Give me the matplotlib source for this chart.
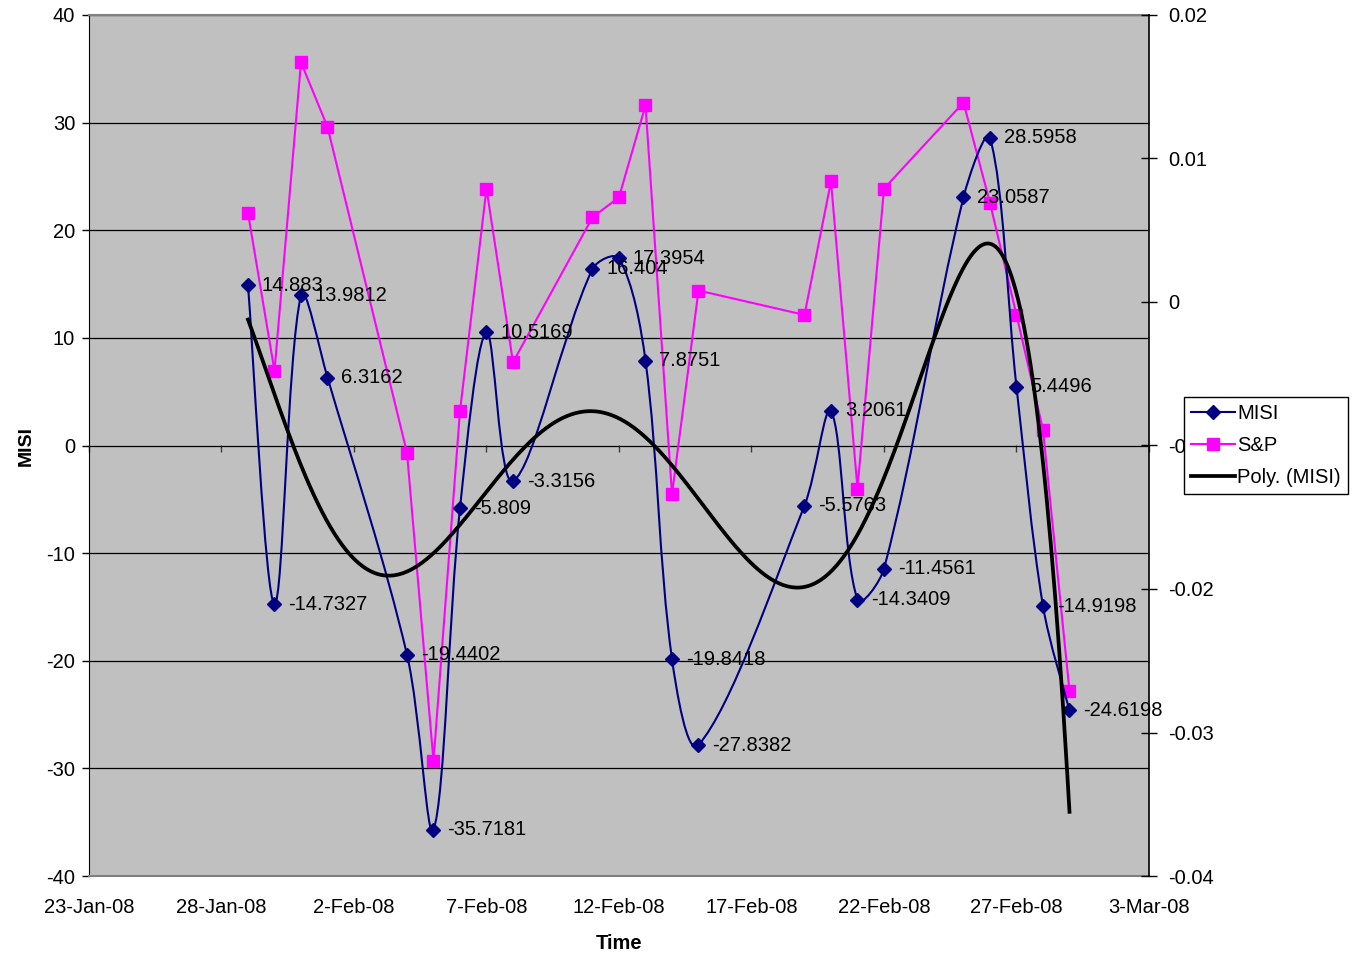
import numpy as np
import pandas as pd
import matplotlib
matplotlib.use("Agg")
import matplotlib.pyplot as plt
import matplotlib.dates as mdates
from matplotlib.path import Path
from matplotlib.patches import PathPatch
from matplotlib.lines import Line2D
from matplotlib.transforms import blended_transform_factory

plt.rcParams['font.family'] = ['Liberation Sans', 'DejaVu Sans']
plt.rcParams['axes.unicode_minus'] = False

# Datos
fechas = ['2008-01-29', '2008-01-30', '2008-01-31', '2008-02-01', '2008-02-04',
          '2008-02-05', '2008-02-06', '2008-02-07', '2008-02-08', '2008-02-11',
          '2008-02-12', '2008-02-13', '2008-02-14', '2008-02-15', '2008-02-19',
          '2008-02-20', '2008-02-21', '2008-02-22', '2008-02-25', '2008-02-26',
          '2008-02-27', '2008-02-28', '2008-02-29']
misi = [14.883, -14.7327, 13.9812, 6.3162, -19.4402, -35.7181, -5.809, 10.5169,
        -3.3156, 16.404, 17.3954, 7.8751, -19.8418, -27.8382, -5.5763, 3.2061,
        -14.3409, -11.4561, 23.0587, 28.5958, 5.4496, -14.9198, -24.6198]
sp = [0.0062, -0.0048, 0.0167, 0.0122, -0.0105, -0.0320, -0.0076, 0.0079,
      -0.0042, 0.0059, 0.0073, 0.0137, -0.0134, 0.0008, -0.0009, 0.0084,
      -0.0130, 0.0079, 0.0139, 0.0069, -0.0009, -0.0089, -0.0271]
ticks_der = [0.02, 0.01, 0, -0.01, -0.02, -0.03, -0.04]

x = mdates.date2num(pd.to_datetime(fechas))
y = np.array(misi)

fig = plt.figure(figsize=(13.61, 9.57), dpi=100)
ax = fig.add_axes([89/1361, 81/957, 1060/1361, 861/957])
ax2 = ax.twinx()

ax.set_facecolor('#C0C0C0')
x0 = mdates.date2num(pd.Timestamp('2008-01-23'))
x1 = mdates.date2num(pd.Timestamp('2008-03-03'))
ax.set_xlim(x0, x1)
ax.set_ylim(-40, 40)
ax2.set_ylim(-0.04, 0.02)

# Cuadrícula
ax.set_yticks(np.arange(-40, 41, 10))
ax.set_axisbelow(True)
ax.yaxis.grid(True, color='black', lw=0.9)
ax.xaxis.grid(False)

for s in ['top', 'bottom']:
    ax.spines[s].set_color('#808080')
    ax.spines[s].set_linewidth(1.5)
ax.spines['left'].set_color('black')
ax.spines['right'].set_visible(False)
for s in ['top', 'bottom', 'left']:
    ax2.spines[s].set_visible(False)
ax2.spines['right'].set_color('black')
ax2.spines['right'].set_linewidth(1.2)

# Eje de fechas
ax.set_xticks(np.arange(x0, x1 + 1, 5))
ax.xaxis.set_major_formatter(
    plt.FuncFormatter(lambda v, p: mdates.num2date(v).strftime('%d-%b-%y').lstrip('0')))
ax.tick_params(axis='x', length=0, pad=16, labelsize=14.5)
ax.tick_params(axis='y', direction='out', length=5, width=1, pad=5, labelsize=14.5)

# marcas del eje x sobre la línea de 0
sec = ax.secondary_xaxis(0.5)
sec.set_xticks(np.arange(x0, x1 + 1, 5))
sec.xaxis.set_ticks_position('bottom')
sec.tick_params(axis='x', direction='out', length=5, width=1, color='#404040',
                labelbottom=False, labeltop=False)
for s in sec.spines.values():
    s.set_visible(False)

ax2.set_yticks(ticks_der)
ax2.set_yticklabels([f'{t:g}' if t != 0 else '0' for t in ticks_der])
ax2.tick_params(axis='y', direction='inout', length=12, width=1, pad=8, labelsize=14.5)

# S&P en el eje derecho pero dibujado en ax para controlar el orden
tr = blended_transform_factory(ax.transData, ax2.transData)
ax.plot(x, sp, color='#FF00FF', lw=1.5, marker='s', ms=8.5, transform=tr, zorder=2,
        clip_on=False)

# MISI suavizado: Bezier en pixeles, tangentes repartidas segun largo de cada tramo
P = ax.transData.transform(np.column_stack([x, y]))
n = len(P)
seg = np.linalg.norm(np.diff(P, axis=0), axis=1)
c_out = np.zeros_like(P)
c_in = np.zeros_like(P)
for i in range(n):
    if i == 0:
        c_out[i] = P[0] + (P[1] - P[0]) / 6
        continue
    if i == n - 1:
        c_in[i] = P[-1] - (P[-1] - P[-2]) / 6
        continue
    m = P[i + 1] - P[i - 1]
    tot = seg[i - 1] + seg[i]
    c_in[i] = P[i] - m * seg[i - 1] / tot / 3
    c_out[i] = P[i] + m * seg[i] / tot / 3
verts = [P[0]]
codes = [Path.MOVETO]
for i in range(n - 1):
    verts += [c_out[i], c_in[i + 1], P[i + 1]]
    codes += [Path.CURVE4] * 3
verts = ax.transData.inverted().transform(np.array(verts))
ax.add_patch(PathPatch(Path(verts, codes), fill=False, edgecolor='#000080', lw=1.5, zorder=3))
ax.plot(x, y, linestyle='none', marker='D', ms=7.5, color='#000080', zorder=3)

# Tendencia polinómica (orden 6)
pol = np.polynomial.Polynomial.fit(x - x[0], y, 6)
xs = np.linspace(x[0], x[-1], 400)
ax.plot(xs, pol(xs - x[0]), color='black', lw=2.7, zorder=4)

# Etiquetas de datos
for xi, yi in zip(x, misi):
    ax.annotate(str(yi), (xi, yi), xytext=(10, 0), textcoords='offset points',
                va='center', ha='left', fontsize=14.5, zorder=5)

ax.set_ylabel('MISI', fontsize=14, fontweight='bold', labelpad=8)
ax.set_xlabel('Time', fontsize=14.5, fontweight='bold', labelpad=12)

handles = [Line2D([], [], color='#000080', lw=1.5, marker='D', ms=7.5),
           Line2D([], [], color='#FF00FF', lw=1.5, marker='s', ms=8.5),
           Line2D([], [], color='black', lw=2.7)]
leg = fig.legend(handles, ['MISI', 'S&P', 'Poly. (MISI)'], loc='upper left',
                 bbox_to_anchor=(1184/1361, 1 - 397/957), borderaxespad=0,
                 fontsize=14.5, frameon=True, fancybox=False, framealpha=1,
                 edgecolor='black', handlelength=2.2, handletextpad=0.1,
                 labelspacing=0.65, borderpad=0.35)
leg.get_frame().set_linewidth(1)

fig.savefig('out.png', dpi=100)
